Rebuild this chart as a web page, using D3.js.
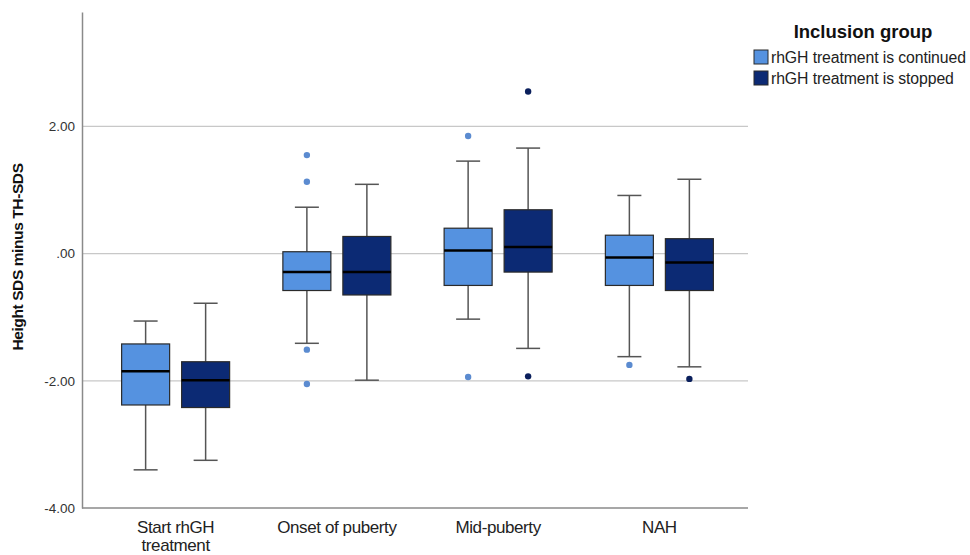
<!DOCTYPE html>
<html><head><meta charset="utf-8">
<script src="https://cdn.jsdelivr.net/npm/d3@7"></script>
<style>body{margin:0;background:#fff;}svg{display:block;font-family:"Liberation Sans",Arial,sans-serif;}</style>
</head><body>
<svg id="c" width="970" height="555"></svg>
<script>
const categories = ["Start rhGH\ntreatment", "Onset of puberty", "Mid-puberty", "NAH"];
const groups = ["rhGH treatment is continued", "rhGH treatment is stopped"];
const yTicks = [-4, -2, 0, 2];
// box stats per category: [whiskerLow, q1, median, q3, whiskerHigh]
const continuedStats = [
  [-3.40, -2.38, -1.85, -1.42, -1.06],
  [-1.41, -0.58, -0.29, 0.03, 0.73],
  [-1.03, -0.50, 0.05, 0.40, 1.455],
  [-1.62, -0.50, -0.06, 0.29, 0.915]
];
const stoppedStats = [
  [-3.25, -2.42, -1.99, -1.70, -0.78],
  [-1.99, -0.65, -0.29, 0.27, 1.09],
  [-1.49, -0.29, 0.105, 0.69, 1.66],
  [-1.78, -0.58, -0.14, 0.235, 1.17]
];
const continuedOutliers = [[], [1.55, 1.13, -1.51, -2.05], [1.85, -1.94], [-1.75]];
const stoppedOutliers = [[], [], [2.55, -1.93], [-1.97]];

const colors = ["#5592e0", "#0c2a74"];
const outlierColors = ["#5b8bd0", "#0a1f5c"];

const svg = d3.select("#c");
const x0 = d3.scaleBand().domain(categories).range([95, 740]);
const x1 = d3.scaleBand().domain(groups).range([-60, 60]).paddingInner(0);
const y = d3.scaleLinear().domain([-4, 3.8]).range([508, 12]);
const boxW = 48;

// gridlines
svg.append("g").selectAll("line").data(yTicks.filter(d => d !== -4)).join("line")
  .attr("x1", 82).attr("x2", 748).attr("y1", d => y(d)).attr("y2", d => y(d))
  .attr("stroke", "#c8c8c8").attr("stroke-width", 1.2);

// axes
const fmt = d3.format(".2f");
const yAxis = d3.axisLeft(y).tickValues(yTicks).tickSize(0).tickPadding(7)
  .tickFormat(d => d === 0 ? ".00" : fmt(d).replace("\u2212", "-"));
const ga = svg.append("g").attr("transform", "translate(82,0)").call(yAxis);
ga.select(".domain").attr("stroke", "#8a8a8a").attr("stroke-width", 1.5);
ga.selectAll("text").attr("font-size", 13.5).attr("fill", "#333").attr("font-family", "Liberation Sans, Arial, sans-serif");

svg.append("line").attr("x1", 82).attr("x2", 748).attr("y1", 508).attr("y2", 508)
  .attr("stroke", "#8a8a8a").attr("stroke-width", 1.5);

// x labels
categories.forEach(c => {
  const lines = c.split("\n");
  const cx = x0(c) + x0.bandwidth() / 2;
  const t = svg.append("text").attr("text-anchor", "middle").attr("font-size", 17)
    .attr("fill", "#222").attr("x", cx).attr("y", 533)
    .style("letter-spacing", "-0.4px");
  lines.forEach((l, i) => t.append("tspan").attr("x", cx).attr("dy", i === 0 ? 0 : 17.5).text(l));
});

// y label
svg.append("text").attr("transform", "translate(23,257) rotate(-90)")
  .attr("text-anchor", "middle").attr("font-size", 15.5).attr("font-weight", "bold")
  .attr("fill", "#111").style("letter-spacing", "-0.4px").text("Height SDS minus TH-SDS");

// boxes
const allStats = [continuedStats, stoppedStats];
const allOut = [continuedOutliers, stoppedOutliers];
groups.forEach((g, gi) => {
  const gg = svg.append("g");
  categories.forEach((c, ci) => {
    const s = allStats[gi][ci];
    const cx = x0(c) + x0.bandwidth() / 2 + x1(g) + x1.bandwidth() / 2;
    gg.append("line").attr("x1", cx).attr("x2", cx).attr("y1", y(s[0])).attr("y2", y(s[1]))
      .attr("stroke", "#555").attr("stroke-width", 1.5);
    gg.append("line").attr("x1", cx).attr("x2", cx).attr("y1", y(s[3])).attr("y2", y(s[4]))
      .attr("stroke", "#555").attr("stroke-width", 1.5);
    [s[0], s[4]].forEach(v => gg.append("line").attr("x1", cx - 12).attr("x2", cx + 12)
      .attr("y1", y(v)).attr("y2", y(v)).attr("stroke", "#555").attr("stroke-width", 1.5));
    gg.append("rect").attr("x", cx - boxW / 2).attr("width", boxW)
      .attr("y", y(s[3])).attr("height", y(s[1]) - y(s[3]))
      .attr("fill", colors[gi]).attr("stroke", "#2a2a2a").attr("stroke-width", 1.2);
    gg.append("line").attr("x1", cx - boxW / 2).attr("x2", cx + boxW / 2)
      .attr("y1", y(s[2])).attr("y2", y(s[2])).attr("stroke", "#000").attr("stroke-width", 2.5);
    allOut[gi][ci].forEach(v => gg.append("circle").attr("cx", cx).attr("cy", y(v)).attr("r", 3.2)
      .attr("fill", outlierColors[gi]));
  });
});

// legend
svg.append("text").attr("x", 863).attr("y", 38).attr("text-anchor", "middle")
  .attr("font-size", 18.5).attr("font-weight", "bold").attr("fill", "#111").text("Inclusion group");
groups.forEach((g, i) => {
  svg.append("rect").attr("x", 754).attr("y", 50 + i * 21).attr("width", 14).attr("height", 14)
    .attr("fill", colors[i]).attr("stroke", "#2a2a2a").attr("stroke-width", 1);
  svg.append("text").attr("x", 771).attr("y", 63 + i * 21).attr("font-size", 15.8)
    .attr("fill", "#222").style("letter-spacing", "-0.1px").text(g);
});
</script>
</body></html>
